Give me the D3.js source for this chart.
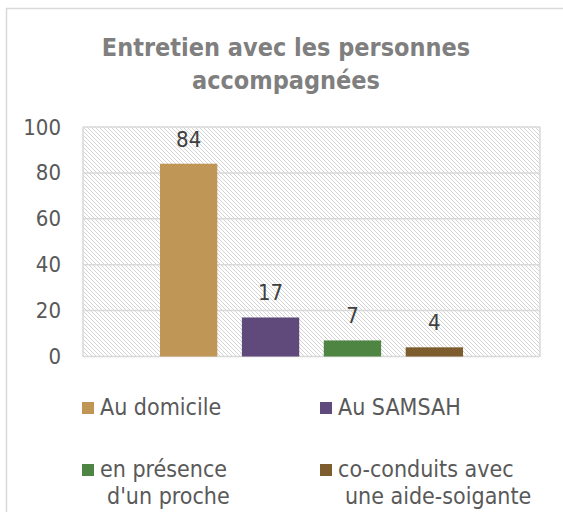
<!DOCTYPE html>
<html>
<head>
<meta charset="utf-8">
<script src="https://cdn.jsdelivr.net/npm/d3@7"></script>
<style>
  body { margin: 0; background: #fff; }
  text { font-family: "DejaVu Sans Condensed", "DejaVu Sans", sans-serif; }
</style>
</head>
<body>
<svg id="chart" width="563" height="512"></svg>
<script>
// data
var titleLines = ["Entretien avec les personnes", "accompagnées"];
var seriesNames = ["Au domicile", "Au SAMSAH", "en présence d'un proche", "co-conduits avec une aide-soigante"];
var legendLines = [["Au domicile"], ["Au SAMSAH"], ["en présence", "d'un proche"], ["co-conduits avec", "une aide-soigante"]];
var values = [84, 17, 7, 4];
var colors = ["#c09657", "#604a7b", "#4f8543", "#7d5d2d"];
var yTicks = [0, 20, 40, 60, 80, 100];

(function () {
    var svg = d3.select("#chart");
    var plotLeft = 83, plotRight = 540, plotTop = 127, plotBottom = 356.5;

    // chart border
    svg.append("rect")
        .attr("x", 6.5).attr("y", 8.5)
        .attr("width", 600).attr("height", 600)
        .attr("fill", "#fff")
        .attr("stroke", "#d9d9d9")
        .attr("stroke-width", 1.5);

    // hatch for plot area
    var pat = svg.append("defs").append("pattern")
        .attr("id", "hatch")
        .attr("patternUnits", "userSpaceOnUse")
        .attr("width", 4).attr("height", 4);
    pat.append("path")
        .attr("d", "M-1,-1 L5,5 M-1,3 L1,5 M3,-1 L5,1")
        .attr("stroke", "#d4d4d4")
        .attr("stroke-width", 1);

    var x = d3.scaleBand()
        .domain(seriesNames)
        .range([plotLeft, plotRight])
        .paddingInner(0.3)
        .paddingOuter(0.94);

    var y = d3.scaleLinear().domain([0, 100]).range([plotBottom, plotTop]);

    svg.append("rect")
        .attr("x", plotLeft).attr("y", plotTop)
        .attr("width", plotRight - plotLeft).attr("height", plotBottom - plotTop)
        .attr("fill", "url(#hatch)");

    // gridlines
    svg.append("g")
        .selectAll("line")
        .data(yTicks)
        .join("line")
        .attr("x1", plotLeft).attr("x2", plotRight)
        .attr("y1", function (d) { return y(d); })
        .attr("y2", function (d) { return y(d); })
        .attr("stroke", "#d9d9d9")
        .attr("stroke-width", 1.5);

    [plotLeft, plotRight].forEach(function (px) {
        svg.append("line")
            .attr("x1", px).attr("x2", px)
            .attr("y1", plotTop).attr("y2", plotBottom)
            .attr("stroke", "#d9d9d9").attr("stroke-width", 1.5);
    });

    // y axis labels
    var gy = svg.append("g")
        .attr("transform", "translate(" + plotLeft + ",0)")
        .call(d3.axisLeft(y).tickValues(yTicks).tickSize(0).tickPadding(22));
    gy.select(".domain").remove();
    gy.selectAll("text")
        .attr("fill", "#595959")
        .style("font-size", "22px")
        .style("font-family", "\"DejaVu Sans Condensed\", \"DejaVu Sans\", sans-serif");

    // bars
    svg.append("g")
        .selectAll("rect")
        .data(values)
        .join("rect")
        .attr("x", function (d, i) { return x(seriesNames[i]); })
        .attr("y", function (d) { return y(d); })
        .attr("width", x.bandwidth())
        .attr("height", function (d) { return y(0) - y(d); })
        .attr("fill", function (d, i) { return colors[i]; });

    // value labels
    svg.append("g")
        .selectAll("text")
        .data(values)
        .join("text")
        .attr("x", function (d, i) { return x(seriesNames[i]) + x.bandwidth() / 2; })
        .attr("y", function (d) { return y(d) - 17; })
        .attr("text-anchor", "middle")
        .attr("fill", "#404040")
        .style("font-size", "22px")
        .text(function (d) { return d; });

    // title
    svg.append("g")
        .selectAll("text")
        .data(titleLines)
        .join("text")
        .attr("x", 286)
        .attr("y", function (d, i) { return 56 + i * 33; })
        .attr("text-anchor", "middle")
        .attr("fill", "#7f7f7f")
        .style("font-size", "25px")
        .style("font-weight", "bold")
        .text(function (d) { return d; });

    // legend
    var legX = [82, 320], legY = [415, 477];
    var leg = svg.append("g")
        .selectAll("g")
        .data(legendLines)
        .join("g")
        .attr("transform", function (d, i) {
            return "translate(" + legX[i % 2] + "," + legY[Math.floor(i / 2)] + ")";
        });
    leg.append("rect")
        .attr("x", 0).attr("y", -13)
        .attr("width", 12).attr("height", 12)
        .attr("fill", function (d, i) { return colors[i]; });
    leg.each(function (lines) {
        var g = d3.select(this);
        lines.forEach(function (t, k) {
            g.append("text")
                .attr("x", k === 0 ? 18 : 25)
                .attr("y", k * 27)
                .attr("fill", "#595959")
                .style("font-size", "23px")
                .text(t);
        });
    });
})();
</script>
</body>
</html>
